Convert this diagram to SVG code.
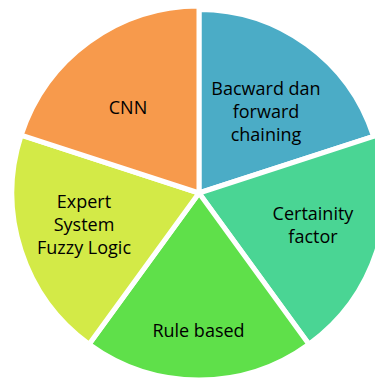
<svg xmlns="http://www.w3.org/2000/svg" width="375" height="378" viewBox="0 0 375 378">
  <style>
    .slice { stroke: #ffffff; stroke-width: 5; stroke-linejoin: miter; }
    .lbl { font-family: "Open Sans", "Liberation Sans", sans-serif; font-size: 18px; fill: #000000; text-anchor: middle; }
  </style>
  <rect width="375" height="378" fill="#ffffff"/>
  <g id="slice-backward">
    <path class="slice" fill="#4BACC6" d="M199,193 L199,9.5 A183.5,183.5 0 0 1 373.52,136.3 Z"/>
    <text class="lbl" x="266" y="95">Bacward dan</text>
    <text class="lbl" x="266" y="118">forward</text>
    <text class="lbl" x="266" y="141">chaining</text>
  </g>
  <g id="slice-certainty">
    <path class="slice" fill="#4AD594" d="M199,193 L376.85,135.21 A187,187 0 0 1 308.92,344.28 Z"/>
    <text class="lbl" x="313" y="220">Certainity</text>
    <text class="lbl" x="313" y="243">factor</text>
  </g>
  <g id="slice-rule">
    <path class="slice" fill="#5FE04A" d="M199,193 L308.92,344.28 A187,187 0 0 1 89.08,344.28 Z"/>
    <text class="lbl" x="198.5" y="337">Rule based</text>
  </g>
  <g id="slice-expert">
    <path class="slice" fill="#D3EA47" d="M199,193 L89.08,344.28 A187,187 0 0 1 21.15,135.21 Z"/>
    <text class="lbl" x="84" y="208">Expert</text>
    <text class="lbl" x="84" y="231">System</text>
    <text class="lbl" x="84" y="254">Fuzzy Logic</text>
  </g>
  <g id="slice-cnn">
    <path class="slice" fill="#F79A4C" d="M199,193 L21.15,135.21 A187,187 0 0 1 199,6 Z"/>
    <text class="lbl" x="128" y="114">CNN</text>
  </g>
</svg>
